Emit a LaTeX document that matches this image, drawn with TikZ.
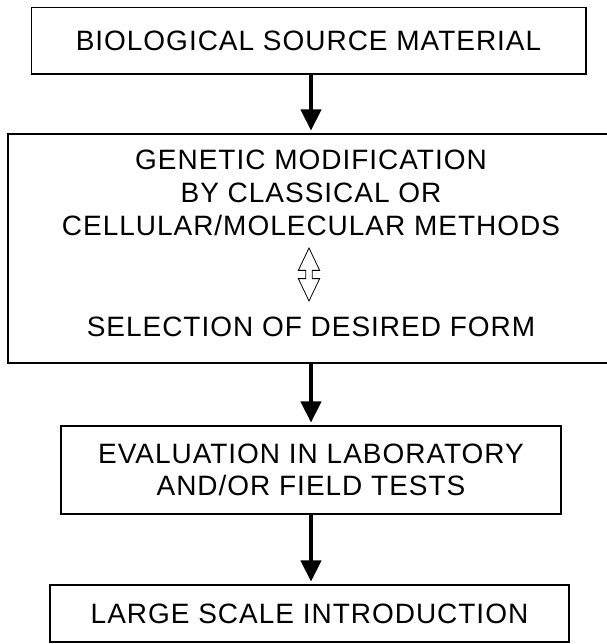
\documentclass[tikz,border=0pt]{standalone}
\usepackage{fontspec}
\setmainfont{Liberation Sans}[LetterSpace=3.5]
\usetikzlibrary{arrows.meta,shapes.arrows}

\begin{document}
\begin{tikzpicture}[x=0.75pt, y=-0.75pt]
	% Stili dei riquadri e delle frecce
	\tikzset{riquadro/.style={rectangle, draw, line width=1pt, inner sep=0pt, font=\fontsize{21}{25}\selectfont, align=center},
		testo/.style={inner sep=0pt, font=\fontsize{21}{25}\selectfont, align=center},
		freccia/.style={line width=3.4pt, -{Triangle[width=15pt,length=16pt]}, shorten >=2pt},
		doppia/.style={double arrow, draw, line width=0.6pt, shape border rotate=90, minimum height=39.75pt, minimum width=15pt, inner sep=2.2pt, double arrow head extend=5.5pt, double arrow tip angle=51}}
	\useasboundingbox (0,0) rectangle (607,644);
	
	% Riquadri principali
	\node[riquadro, minimum width=416pt, minimum height=50pt] (S) at (308.5,40.5) {BIOLOGICAL SOURCE MATERIAL};
	\node[riquadro, minimum width=454.5pt, minimum height=171.75pt] (M) at (311,248.5) {};
	\node[riquadro, minimum width=375pt, minimum height=66pt, font=\fontsize{21}{24}\selectfont] (V) at (311,470) {EVALUATION IN LABORATORY\\AND/OR FIELD TESTS};
	\node[riquadro, minimum width=389.25pt, minimum height=42.75pt] (L) at (309.5,613.5) {LARGE SCALE INTRODUCTION};
	
	% Contenuto del secondo riquadro
	\node[testo] (G) at (311,193) {GENETIC MODIFICATION\\BY CLASSICAL OR\\CELLULAR/MOLECULAR METHODS};
	\node[testo] (F) at (311,327) {SELECTION OF DESIRED FORM};
	\node[doppia] (D) at (309,274.5) {};
	
	% Frecce tra i riquadri
	\draw[freccia] (M.north |- S.south) -- (M.north);
	\draw[freccia] (M.south) -- (M.south |- V.north);
	\draw[freccia] (V.south) -- (V.south |- L.north);
	
\end{tikzpicture}
\end{document}
